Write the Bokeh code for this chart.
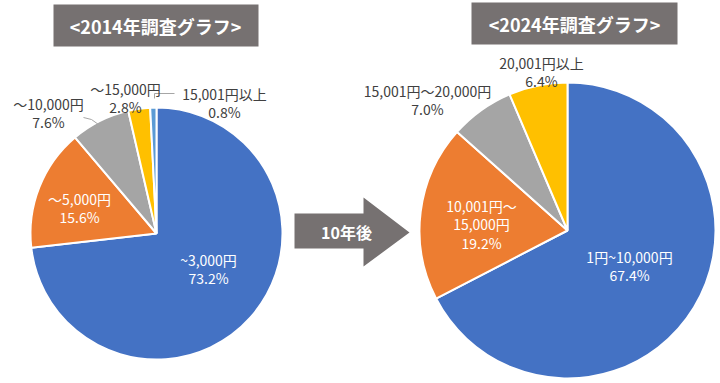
import numpy as np
from bokeh.plotting import figure
from bokeh.models import Range1d, ColumnDataSource
from bokeh.core.properties import value
from bokeh.embed import file_html
from bokeh.resources import INLINE

# ---------------- data ----------------
cats_2014 = ["~3,000円", "～5,000円", "～10,000円", "～15,000円", "15,001円以上"]
vals_2014 = [73.2, 15.6, 7.6, 2.8, 0.8]
cats_2024 = ["1円~10,000円", "10,001円～15,000円", "15,001円～20,000円", "20,001円以上"]
vals_2024 = [67.4, 19.2, 7.0, 6.4]
title_2014 = "<2014年調査グラフ>"
title_2024 = "<2024年調査グラフ>"
arrow_text = "10年後"

# ---------------- style / layout ----------------
colors_2014 = ["#4472C4", "#ED7D31", "#A5A5A5", "#FFC000", "#5B9BD5"]
colors_2024 = ["#4472C4", "#ED7D31", "#A5A5A5", "#FFC000"]
BOX = "#767171"
FONT = "Noto Sans CJK JP"
H = 383


def Y(y):
    return H - y


# label line layout: (lines, x, y of first line, colour)
lab_2014 = [
    (["~3,000円", "73.2%"], 208, 259, "white"),
    (["～5,000円", "15.6%"], 79, 198, "white"),
    (["～10,000円", "7.6%"], 48, 103, "#404040"),
    (["～15,000円", "2.8%"], 125, 88, "#404040"),
    (["15,001円以上", "0.8%"], 224, 93, "#404040"),
]
lab_2024 = [
    (["1円~10,000円", "67.4%"], 629, 256, "white"),
    (["10,001円～", "15,000円", "19.2%"], 481, 205, "white"),
    (["15,001円～20,000円", "7.0%"], 427, 90, "#404040"),
    (["20,001円以上", "6.4%"], 541, 62, "#404040"),
]
LINE_GAP = 18.5

p = figure(width=720, height=383, x_range=Range1d(0, 720), y_range=Range1d(0, 383),
           output_backend="svg", toolbar_location=None, min_border=0)
p.axis.visible = False
p.grid.visible = False
p.outline_line_color = None
p.background_fill_color = "white"


def pie(vals, colors, cx, cy, r):
    v = np.array(vals, dtype=float)
    cum = np.concatenate([[0], np.cumsum(v)]) / v.sum()
    start = np.pi / 2 - 2 * np.pi * cum[:-1]
    end = np.pi / 2 - 2 * np.pi * cum[1:]
    src = ColumnDataSource(dict(x=[cx] * len(v), y=[Y(cy)] * len(v), start=start, end=end, color=colors))
    p.wedge(x="x", y="y", radius=r, start_angle="start", end_angle="end", direction="clock",
            fill_color="color", line_color="white", line_width=2, source=src)


pie(vals_2014, colors_2014, 156, 233, 126)
pie(vals_2024, colors_2024, 567, 230, 148)

# leader lines
p.line([83, 91, 98], [Y(117), Y(119), Y(124)], line_color="#A6A6A6", line_width=1)
p.line([154, 154, 174], [Y(98), Y(93), Y(93)], line_color="#A6A6A6", line_width=1)


def labels(lab):
    xs, ys, ts, cs = [], [], [], []
    for lines, x, y, c in lab:
        for i, t in enumerate(lines):
            xs.append(x)
            ys.append(Y(y + i * LINE_GAP))
            ts.append(t)
            cs.append(c)
    src = ColumnDataSource(dict(x=xs, y=ys, t=ts, c=cs))
    p.text(x="x", y="y", text="t", text_color="c", text_font=value(FONT), text_font_size="14px",
           text_align="center", text_baseline="middle", source=src)


labels(lab_2014)
labels(lab_2024)

# title boxes
p.quad(left=[53, 471], right=[258, 677], top=[Y(4), Y(2)], bottom=[Y(46), Y(44)],
       fill_color=BOX, line_color=None)
p.text(x=[155, 574], y=[Y(25), Y(23)], text=[title_2014, title_2024], text_color="white",
       text_font=value(FONT), text_font_size="18px", text_font_style="bold",
       text_align="center", text_baseline="middle")

# arrow
ax = [294, 363, 363, 409, 363, 363, 294]
ay = [213, 213, 197, 232, 266, 248, 248]
p.patch(ax, [Y(v) for v in ay], fill_color=BOX, line_color=None)
p.text(x=[346], y=[Y(231)], text=[arrow_text], text_color="white", text_font=value(FONT),
       text_font_size="16px", text_font_style="bold", text_align="center", text_baseline="middle")

open("out.html", "w").write(file_html(p, INLINE))
